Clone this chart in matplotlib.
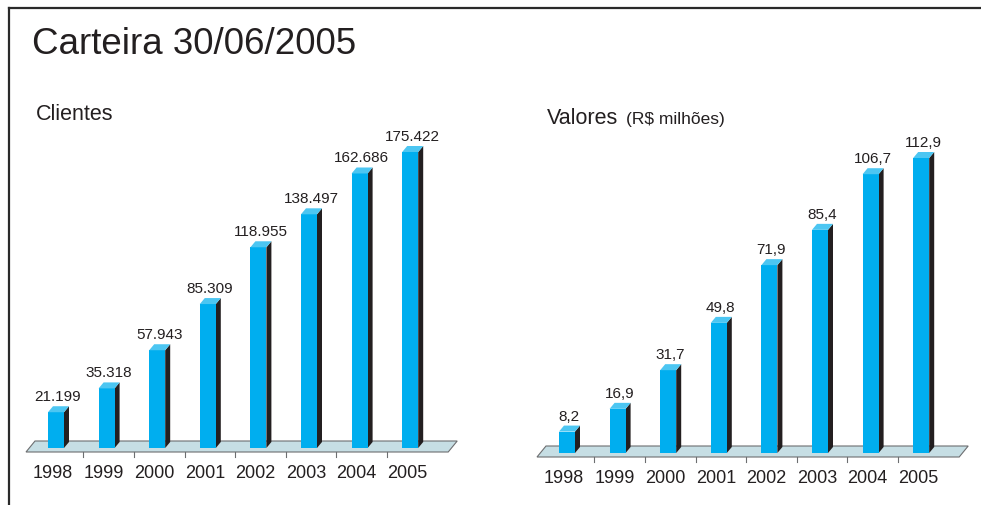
import matplotlib.pyplot as plt

plt.rcParams['font.family'] = ['Liberation Sans', 'DejaVu Sans']

anos = ['1998', '1999', '2000', '2001', '2002', '2003', '2004', '2005']
clientes = [21199, 35318, 57943, 85309, 118955, 138497, 162686, 175422]
valores = [8.2, 16.9, 31.7, 49.8, 71.9, 85.4, 106.7, 112.9]

rotulos_clientes = [f"{v:,}".replace(',', '.') for v in clientes]
rotulos_valores = [f"{v:.1f}".replace('.', ',') for v in valores]

W, H = 981, 506
TEXTO = '#231f20'
AZUL = '#00aeef'
AZUL_TOPO = '#4cc6f2'
LATERAL = '#231f20'
PISO = '#c6dee4'
BORDA_PISO = '#6d6e70'

fig = plt.figure(figsize=(W / 100, H / 100), dpi=100)

# moldura: linha superior e linha esquerda
fig.add_artist(plt.Line2D([8.5 / W, 1], [1 - 8.5 / H, 1 - 8.5 / H], color='#2a2a2a', lw=1.6))
fig.add_artist(plt.Line2D([8.5 / W, 8.5 / W], [0, 1 - 8.5 / H], color='#2a2a2a', lw=1.6))


def painel(dados, rotulos, x0, base, topo, passo=50.6):
    # eixo em pixels: índice -1..8 na horizontal
    ax_top, ax_bot = 90, 500
    left = x0 - passo
    ax = fig.add_axes([left / W, (H - ax_bot) / H, passo * 9 / W, (ax_bot - ax_top) / H])
    ax.set_xlim(-1, 8)
    s = max(dados) / (base - topo)
    ax.set_ylim(-(ax_bot - base) * s, (base - ax_top) * s)
    ax.axis('off')
    px = 1 / passo
    n = len(dados)

    # piso em paralelogramo
    ax.fill([-30 * px, (n - 1) + 38 * px, (n - 1) + 47 * px, -21 * px],
            [-4 * s, -4 * s, 7 * s, 7 * s],
            facecolor=PISO, edgecolor=BORDA_PISO, lw=0.8, zorder=1)

    # marcas entre categorias
    for i in range(n - 1):
        xt = i + 0.5 + 2 * px
        ax.plot([xt, xt], [-4 * s, -9 * s], color=BORDA_PISO, lw=0.8, zorder=1)

    larg = 16 * px
    dx, dy = 5 * px, 6 * s
    xs = list(range(n))
    ax.bar(xs, dados, width=larg, color=AZUL, linewidth=0, zorder=3)
    for x, v, r, ano in zip(xs, dados, rotulos, anos):
        x1 = x - larg / 2
        x2 = x + larg / 2
        ax.fill([x2, x2 + dx, x2 + dx, x2], [0, dy, v + dy, v],
                color=LATERAL, lw=0, zorder=2)
        ax.fill([x1, x1 + dx, x2 + dx, x2], [v, v + dy, v + dy, v],
                color=AZUL_TOPO, lw=0, zorder=3)
        ax.text(x + 2 * px, v + dy + 6 * s, r, ha='center', va='baseline',
                fontsize=11, color=TEXTO)
        ax.text(x - 3 * px, -29 * s, ano, ha='center', va='baseline',
                fontsize=13, color=TEXTO)
    return ax


painel(clientes, rotulos_clientes, 56, 449, 153)
painel(valores, rotulos_valores, 567, 454, 159)

fig.text(32 / W, 1 - 54 / H, 'Carteira 30/06/2005', fontsize=26.5,
         color=TEXTO, va='baseline')
fig.text(36 / W, 1 - 120 / H, 'Clientes', fontsize=15.5, color=TEXTO, va='baseline')
fig.text(547 / W, 1 - 124 / H, 'Valores', fontsize=15.5, color=TEXTO, va='baseline')
fig.text(626 / W, 1 - 124 / H, '(R$ milhões)', fontsize=12.5, color=TEXTO, va='baseline')

fig.savefig('out.png', dpi=100)
